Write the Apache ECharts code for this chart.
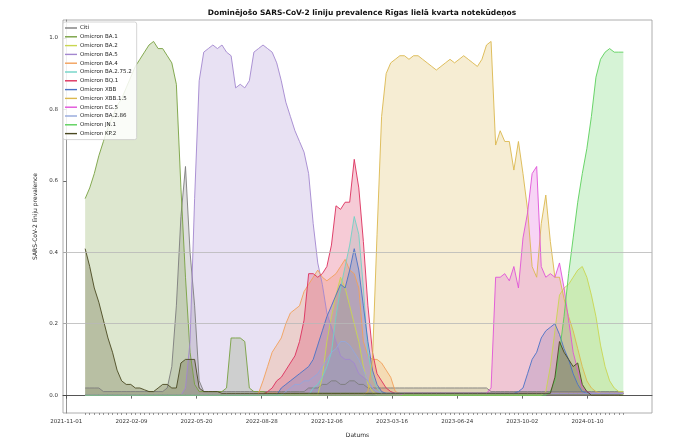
<!DOCTYPE html>
<html><head><meta charset="utf-8">
<script src="https://cdn.jsdelivr.net/npm/echarts@6/dist/echarts.min.js"></script>
<style>html,body{margin:0;padding:0;background:#fff}#c{width:685px;height:445px}</style>
</head><body><div id="c"></div>
<script>
const titleText = "Dominējošo SARS-CoV-2 līniju prevalence Rīgas lielā kvarta notekūdeņos";
const yName = "SARS-CoV-2 līniju prevalence";
const xName = "Datums";
const seriesNames = ["Citi","Omicron BA.1","Omicron BA.2","Omicron BA.5","Omicron BA.4","Omicron BA.2.75.2","Omicron BQ.1","Omicron XBB","Omicron XBB.1.5","Omicron EG.5","Omicron BA.2.86","Omicron JN.1","Omicron KP.2"];
const seriesColors = ["#7d7d7d","#77a040","#c9d650","#a387cf","#f2a05a","#6fd3c6","#dc2f5c","#4a72c6","#dbb84e","#e052d8","#93a7dc","#5ad05a","#4a4820"];
// sample dates: weekly, counted in days from axis origin 2021-11-01
const axisOrigin = "2021-11-01";
const firstSampleDay = 29, sampleStepDays = 7, sampleCount = 119;
const xTickDays = [0,100,200,300,400,500,600,700,800];
const yTicks = [0,0.2,0.4,0.6,0.8,1.0];
const refLines = [0.2,0.4];

const citi = [0.02,0.02,0.02,0.02,0.01,0.01,0.01,0.01,0.01,0.01,
0.01,0.01,0.01,0.01,0.01,0.01,0.01,0.01,0.02,0.08,
0.25,0.50,0.64,0.40,0.25,0.04,0.01,0.01,0.01,0.01,
0.01,0.01,0.01,0.01,0.01,0.01,0.01,0.01,0.01,0.01,
0.01,0.01,0.01,0.01,0.01,0.01,0.01,0.01,0.01,0.02,
0.02,0.02,0.03,0.03,0.04,0.04,0.03,0.03,0.04,0.04,
0.03,0.03,0.02,0.02,0.02,0.02,0.02,0.02,0.02,0.02,
0.02,0.02,0.02,0.02,0.02,0.02,0.02,0.02,0.02,0.02,
0.02,0.02,0.02,0.02,0.02,0.02,0.02,0.02,0.02,0.01,
0.01,0.01,0.01,0.01,0.01,0.01,0.01,0.01,0.01,0.01,
0.01,0.01,0.01,0.01,0.01,0.01,0.01,0.01,0.01,0.01,
0.01,0.01,0.01,0.01,0.01,0.01,0.01,0.01,0.01];
const ba1 = [0.55,0.58,0.62,0.67,0.71,0.75,0.78,0.81,0.83,0.86,
0.89,0.92,0.94,0.96,0.98,0.99,0.97,0.97,0.95,0.93,
0.87,0.58,0.33,0.12,0.03,0.01,0.01,0.01,0.01,0.01,
0.01,0.02,0.16,0.16,0.16,0.15,0.02,0.01,0.01,0.01,
0.005,0.005,0.005,0.005,0.005,0.005,0.005,0.005,0.005,0.005,
0.005,0.005,0.005,0.005,0.005,0.005,0.005,0.005,0.005,0.005,
0.005,0.005,0.005,0.005,0.005,0.005,0.005,0.005,0.005,0.005,
0.005,0.005,0.005,0.005,0.005,0.005,0.005,0.005,0.005,0.005,
0.005,0.005,0.005,0.005,0.005,0.005,0.005,0.005,0.005,0.005,
0.005,0.005,0.005,0.005,0.005,0.005,0.005,0.005,0.005,0.005,
0.005,0.005,0.005,0.005,0.005,0.005,0.005,0.005,0.005,0.005,
0.005,0.005,0.005,0.005,0.005,0.005,0.005,0.005,0.005];
const ba2 = [0,0,0,0,0,0,0,0,0,0,
0,0,0,0,0,0,0,0,0,0,
0,0,0,0,0,0,0,0,0,0,
0,0,0,0,0,0,0,0,0,0,
0,0,0,0,0,0,0,0,0,0,
0,0,0.05,0.15,0.22,0.28,0.33,0.30,0.25,0.20,
0.15,0.08,0.03,0.01,0,0,0,0,0,0,
0,0,0,0,0,0,0,0,0,0,
0,0,0,0,0,0,0,0,0,0,
0,0,0,0,0,0,0,0,0,0,
0,0.01,0.08,0.18,0.28,0.30,0.31,0.33,0.35,0.36,
0.33,0.28,0.22,0.14,0.08,0.04,0.02,0.01,0.01];
const ba5 = [0,0,0,0,0,0,0,0,0,0,
0,0,0,0,0,0,0,0,0,0,
0,0,0.02,0.15,0.55,0.88,0.96,0.97,0.98,0.97,
0.98,0.96,0.95,0.86,0.87,0.86,0.88,0.96,0.97,0.98,
0.97,0.96,0.93,0.88,0.82,0.78,0.74,0.71,0.68,0.62,
0.48,0.37,0.31,0.23,0.19,0.15,0.11,0.10,0.10,0.09,
0.06,0.05,0.04,0.02,0.01,0.005,0.005,0.005,0.005,0.005,
0.005,0.005,0.005,0.005,0.005,0.005,0.005,0.005,0.005,0.005,
0.005,0.005,0.005,0.005,0.005,0.005,0.005,0.005,0.005,0.005,
0.005,0.005,0.005,0.005,0.005,0.005,0.005,0.005,0.005,0.005,
0.005,0.005,0.005,0.005,0.005,0.005,0.005,0.005,0.005,0.005,
0.005,0.005,0.005,0.005,0.005,0.005,0.005,0.005,0.005];
const ba4 = [0,0,0,0,0,0,0,0,0,0,
0,0,0,0,0,0,0,0,0,0,
0,0,0,0,0,0,0,0,0,0,
0,0,0,0,0,0,0,0,0.005,0.04,
0.08,0.12,0.14,0.16,0.20,0.23,0.24,0.25,0.29,0.31,
0.33,0.35,0.33,0.32,0.33,0.34,0.36,0.38,0.35,0.34,
0.30,0.15,0.11,0.10,0.10,0.09,0.07,0.05,0.01,0.005,
0.005,0.005,0.005,0.005,0.005,0.005,0.005,0.005,0.005,0.005,
0.005,0.005,0.005,0.005,0.005,0.005,0.005,0.005,0.005,0.005,
0.005,0.005,0.005,0.005,0.005,0.005,0.005,0.005,0.005,0.005,
0.005,0.005,0.005,0.005,0.005,0.005,0.005,0.005,0.005,0.005,
0.005,0.005,0.005,0.005,0.005,0.005,0.005,0.005,0.005];
const ba2752 = [0,0,0,0,0,0,0,0,0,0,
0,0,0,0,0,0,0,0,0,0,
0,0,0,0,0,0,0,0,0,0,
0,0,0,0,0,0,0,0,0,0,
0,0,0,0,0,0,0,0,0,0,
0.02,0.03,0.05,0.08,0.12,0.22,0.30,0.36,0.42,0.50,
0.45,0.30,0.12,0.05,0.02,0.005,0.005,0.005,0.005,0.005,
0.005,0.005,0.005,0.005,0.005,0.005,0.005,0.005,0.005,0.005,
0.005,0.005,0.005,0.005,0.005,0.005,0.005,0.005,0.005,0.005,
0.005,0.005,0.005,0.005,0.005,0.005,0.005,0.005,0.005,0.005,
0.005,0.005,0.005,0.005,0.005,0.005,0.005,0.005,0.005,0.005,
0.005,0.005,0.005,0.005,0.005,0.005,0.005,0.005,0.005];
const bq1 = [0,0,0,0,0,0,0,0,0,0,
0,0,0,0,0,0,0,0,0,0,
0,0,0,0,0,0,0,0,0,0,
0,0,0,0,0,0,0,0,0,0,
0.01,0.02,0.04,0.05,0.07,0.09,0.11,0.15,0.21,0.34,
0.34,0.33,0.34,0.36,0.42,0.53,0.52,0.54,0.54,0.66,
0.58,0.43,0.25,0.12,0.06,0.04,0.02,0.01,0.005,0.005,
0.005,0.005,0.005,0.005,0.005,0.005,0.005,0.005,0.005,0.005,
0.005,0.005,0.005,0.005,0.005,0.005,0.005,0.005,0.005,0.005,
0.005,0.005,0.005,0.005,0.005,0.005,0.005,0.005,0.005,0.005,
0.005,0.005,0.005,0.005,0.005,0.005,0.005,0.005,0.005,0.005,
0.005,0.005,0.005,0.005,0.005,0.005,0.005,0.005,0.005];
const xbb = [0,0,0,0,0,0,0,0,0,0,
0,0,0,0,0,0,0,0,0,0,
0,0,0,0,0,0,0,0,0,0,
0,0,0,0,0,0,0,0,0,0,
0,0,0,0.02,0.03,0.04,0.05,0.06,0.07,0.08,
0.10,0.14,0.18,0.22,0.25,0.28,0.31,0.30,0.35,0.41,
0.35,0.25,0.15,0.07,0.03,0.01,0.005,0.005,0.005,0.005,
0.005,0.005,0.005,0.005,0.005,0.005,0.005,0.005,0.005,0.005,
0.005,0.005,0.005,0.005,0.005,0.005,0.005,0.005,0.005,0.005,
0.005,0.005,0.005,0.005,0.005,0.01,0.02,0.06,0.10,0.12,
0.16,0.18,0.19,0.20,0.17,0.13,0.10,0.06,0.03,0.01,
0.005,0.005,0.005,0.005,0.005,0.005,0.005,0.005,0.005];
const xbb15 = [0,0,0,0,0,0,0,0,0,0,
0,0,0,0,0,0,0,0,0,0,
0,0,0,0,0,0,0,0,0,0,
0,0,0,0,0,0,0,0,0,0,
0,0,0,0,0,0,0,0,0,0,
0,0,0,0,0,0,0,0,0,0,
0,0,0.01,0.10,0.45,0.78,0.90,0.93,0.94,0.95,
0.95,0.94,0.95,0.95,0.94,0.93,0.92,0.91,0.92,0.93,
0.94,0.93,0.94,0.95,0.94,0.93,0.92,0.94,0.98,0.99,
0.70,0.74,0.71,0.71,0.63,0.71,0.62,0.52,0.36,0.33,
0.48,0.56,0.43,0.33,0.33,0.27,0.22,0.18,0.13,0.08,
0.04,0.02,0.01,0.005,0.005,0.005,0.005,0.005,0.005];
const eg5 = [0,0,0,0,0,0,0,0,0,0,
0,0,0,0,0,0,0,0,0,0,
0,0,0,0,0,0,0,0,0,0,
0,0,0,0,0,0,0,0,0,0,
0,0,0,0,0,0,0,0,0,0,
0,0,0,0,0,0,0,0,0,0,
0,0,0,0,0,0,0,0,0,0,
0.005,0.005,0.005,0.005,0.005,0.005,0.005,0.005,0.005,0.005,
0.005,0.005,0.005,0.005,0.005,0.005,0.005,0.005,0.005,0.02,
0.33,0.33,0.34,0.32,0.36,0.30,0.44,0.51,0.62,0.64,
0.36,0.33,0.34,0.33,0.37,0.30,0.21,0.12,0.07,0.02,
0.01,0.005,0.005,0.005,0.005,0.005,0.005,0.005,0.005];
const ba286 = [0,0,0,0,0,0,0,0,0,0,
0,0,0,0,0,0,0,0,0,0,
0,0,0,0,0,0,0,0,0,0,
0,0,0,0,0,0,0,0,0,0,
0,0,0,0,0.01,0.02,0.03,0.03,0.04,0.04,
0.05,0.06,0.08,0.10,0.12,0.13,0.15,0.15,0.14,0.12,
0.10,0.07,0.04,0.02,0.01,0.005,0.005,0.005,0.005,0.005,
0.005,0.005,0.005,0.005,0.005,0.005,0.005,0.005,0.005,0.005,
0.005,0.005,0.005,0.005,0.005,0.005,0.005,0.005,0.005,0.005,
0.005,0.005,0.005,0.005,0.005,0.005,0.005,0.005,0.005,0.005,
0.005,0.005,0.005,0.005,0.005,0.005,0.005,0.005,0.005,0.005,
0.005,0.005,0.005,0.005,0.005,0.005,0.005,0.005,0.005];
const jn1 = [0,0,0,0,0,0,0,0,0,0,
0,0,0,0,0,0,0,0,0,0,
0,0,0,0,0,0,0,0,0,0,
0,0,0,0,0,0,0,0,0,0,
0,0,0,0,0,0,0,0,0,0,
0,0,0,0,0,0,0,0,0,0,
0,0,0,0,0,0,0,0,0,0,
0,0,0,0,0,0,0,0,0,0,
0,0,0,0,0,0,0,0,0,0,
0,0,0,0,0,0,0,0,0,0,
0,0,0.01,0.04,0.12,0.22,0.34,0.44,0.54,0.62,
0.69,0.78,0.89,0.94,0.96,0.97,0.96,0.96,0.96];
const kp2 = [0.41,0.36,0.30,0.26,0.21,0.16,0.12,0.07,0.04,0.03,
0.03,0.02,0.02,0.015,0.01,0.01,0.02,0.03,0.03,0.02,
0.02,0.09,0.10,0.10,0.10,0.02,0.01,0.01,0.01,0.01,
0.005,0.005,0.005,0.005,0.005,0.005,0.005,0.005,0.005,0.005,
0.005,0.005,0.005,0.005,0.005,0.005,0.005,0.005,0.005,0.005,
0.005,0.005,0.005,0.005,0.005,0.005,0.005,0.005,0.005,0.005,
0.005,0.005,0.005,0.005,0.005,0.005,0.005,0.005,0.005,0.005,
0.005,0.005,0.005,0.005,0.005,0.005,0.005,0.005,0.005,0.005,
0.005,0.005,0.005,0.005,0.005,0.005,0.005,0.005,0.005,0.005,
0.005,0.005,0.005,0.005,0.005,0.005,0.005,0.005,0.005,0.005,
0.005,0.005,0.005,0.05,0.15,0.12,0.10,0.08,0.09,0.03,
0.01,0,0,0,0,0,0,0,0];

const allValues = [citi,ba1,ba2,ba5,ba4,ba2752,bq1,xbb,xbb15,eg5,ba286,jn1,kp2];
allValues.forEach((a,k)=>{ if(a.length!==sampleCount) throw new Error("series "+k+" length "+a.length); });

const sampleDays = [];
for (let i=0;i<sampleCount;i++) sampleDays.push(firstSampleDay + i*sampleStepDays);
const originMs = Date.parse(axisOrigin + "T00:00:00Z");
function dayLabel(d){ return new Date(originMs + d*86400000).toISOString().slice(0,10); }

const font = "DejaVu Sans";
const chart = echarts.init(document.getElementById('c'), null, {renderer:'canvas'});
const series = allValues.map((vals,k)=>({
  name: seriesNames[k], type:'line', symbol:'none', animation:false,
  data: vals.map((v,i)=>[sampleDays[i], v]),
  lineStyle:{width:0.9, color:seriesColors[k]},
  itemStyle:{color:seriesColors[k]},
  areaStyle:{color:seriesColors[k], opacity:0.25},
  z: 2,
  markLine: k===0 ? {silent:true, symbol:'none', animation:false, label:{show:false},
    lineStyle:{color:'#b8b8b8', width:0.8, type:'solid'},
    data: refLines.map(v=>({yAxis:v}))} : undefined
}));
chart.setOption({
  backgroundColor:'#fff',
  animation:false,
  title:{text:titleText, left:357, top:4, textAlign:'center',
    textStyle:{fontFamily:font, fontSize:7.5, fontWeight:'bold', color:'#111'}},
  grid:{left:63, right:33, top:20, bottom:32, show:true, borderColor:'#9a9a9a', borderWidth:0.8},
  legend:{orient:'vertical', left:63, top:22, icon:'rect', itemWidth:12, itemHeight:1.4,
    itemGap:2.8, padding:[3,5,3,2], backgroundColor:'rgba(255,255,255,0.85)',
    borderColor:'#cccccc', borderWidth:0.8, borderRadius:2,
    textStyle:{fontFamily:font, fontSize:5.5, lineHeight:6, color:'#222', padding:[0,0,0,-2]}},
  xAxis:[{type:'value', min:-5, max:899, name:xName, nameLocation:'middle', nameGap:19,
    nameTextStyle:{fontFamily:font, fontSize:6, color:'#222'},
    axisLine:{show:true, lineStyle:{color:'#555', width:1}},
    axisTick:{show:true, customValues:xTickDays, length:3.5, lineStyle:{color:'#444', width:0.8}},
    axisLabel:{customValues:xTickDays, fontFamily:font, fontSize:5.5, color:'#333', margin:6,
      formatter:v=>dayLabel(v)},
    splitLine:{show:false}},
   {type:'value', min:-5, max:899, position:'bottom', gridIndex:0,
    axisLine:{show:false},
    axisTick:{show:true, customValues:sampleDays, length:2, lineStyle:{color:'#555', width:0.6}},
    axisLabel:{show:false}, splitLine:{show:false}}],
  yAxis:{type:'value', min:-0.05, max:1.05, name:yName, nameLocation:'middle', nameGap:21,
    nameTextStyle:{fontFamily:font, fontSize:6, color:'#222'},
    axisLine:{show:true, lineStyle:{color:'#777', width:0.8}},
    axisTick:{show:true, customValues:yTicks, length:3, lineStyle:{color:'#444', width:0.8}},
    axisLabel:{customValues:yTicks, fontFamily:font, fontSize:5.5, color:'#333', margin:5,
      formatter:v=>v.toFixed(1)},
    splitLine:{show:false}},
  series: series
});
</script></body></html>
